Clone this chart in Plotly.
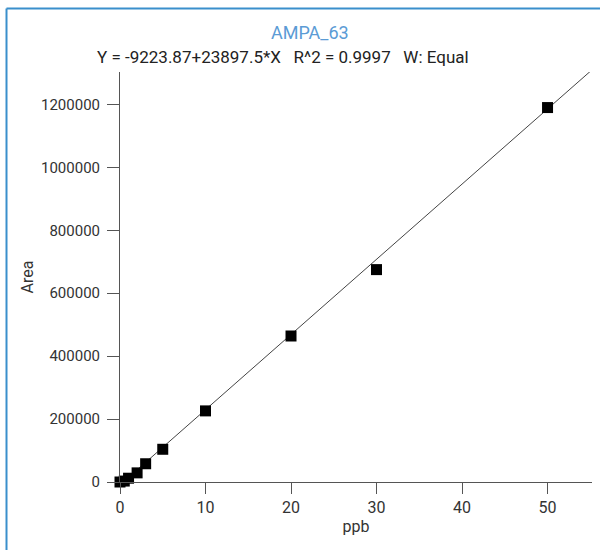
import plotly.graph_objects as go

conc_ppb = [0, 0.5, 1, 2, 3, 5, 10, 20, 30, 50]
area = [0, 3000, 12000, 29000, 58000, 104000, 226000, 464000, 675000, 1190000]

intercept = -9223.87
slope = 23897.5
x_max = 55.2
fit_x = [0, x_max]
fit_y = [intercept + slope * v for v in fit_x]

x_ticks = [0, 10, 20, 30, 40, 50]
y_ticks = [0, 200000, 400000, 600000, 800000, 1000000, 1200000]

FONT = "Roboto, sans-serif"
TXT = "#333333"

fig = go.Figure()
fig.add_trace(go.Scatter(x=fit_x, y=fit_y, mode="lines",
                         line=dict(color="#444444", width=1), hoverinfo="skip"))
fig.add_trace(go.Scatter(x=conc_ppb, y=area, mode="markers",
                         marker=dict(symbol="square", size=11, color="black"),
                         cliponaxis=False))

fig.update_layout(
    width=600, height=550,
    margin=dict(l=120, r=8, t=72, b=68),
    paper_bgcolor="white", plot_bgcolor="white",
    showlegend=False,
    font=dict(family=FONT, size=15, color=TXT),
    xaxis=dict(range=[0, x_max], tickvals=x_ticks, ticktext=[str(v) for v in x_ticks],
               showgrid=False, zeroline=False, showline=True, linecolor="#555555",
               linewidth=1, ticks="outside", ticklen=11, tickcolor="#555555",
               tickfont=dict(size=16),
               title=dict(text="ppb", standoff=2, font=dict(size=16, color=TXT))),
    yaxis=dict(range=[0, 1303000], tickvals=y_ticks, ticktext=[str(v) for v in y_ticks],
               showgrid=False, zeroline=False, showline=True, linecolor="#555555",
               linewidth=1, ticks="outside", ticklen=12, tickcolor="#555555",
               ticklabelstandoff=4, tickfont=dict(size=15),
               title=dict(text="Area", standoff=3, font=dict(size=16, color=TXT))),
)

fig.add_annotation(text="AMPA_63", xref="paper", yref="paper", x=(310 - 120) / 472,
                   y=(482 - 33) / 410, showarrow=False, xanchor="center", yanchor="middle",
                   font=dict(family=FONT, size=18, color="#5b9bd5"))
fig.add_annotation(text="Y = -9223.87+23897.5*X   R^2 = 0.9997   W: Equal", xref="paper",
                   yref="paper", x=(283 - 120) / 472, y=(482 - 57) / 410, showarrow=False,
                   xanchor="center", yanchor="middle",
                   font=dict(family=FONT, size=17, color="#222222"))

bx = (6.5 - 120) / 472
by = (482 - 8.5) / 410
fig.add_shape(type="line", xref="paper", yref="paper", x0=bx, x1=bx, y0=-0.3, y1=by,
              line=dict(color="#3a8fcc", width=2))
fig.add_shape(type="line", xref="paper", yref="paper", x0=bx, x1=1.1, y0=by, y1=by,
              line=dict(color="#3a8fcc", width=2))

fig.write_html("out.html")
